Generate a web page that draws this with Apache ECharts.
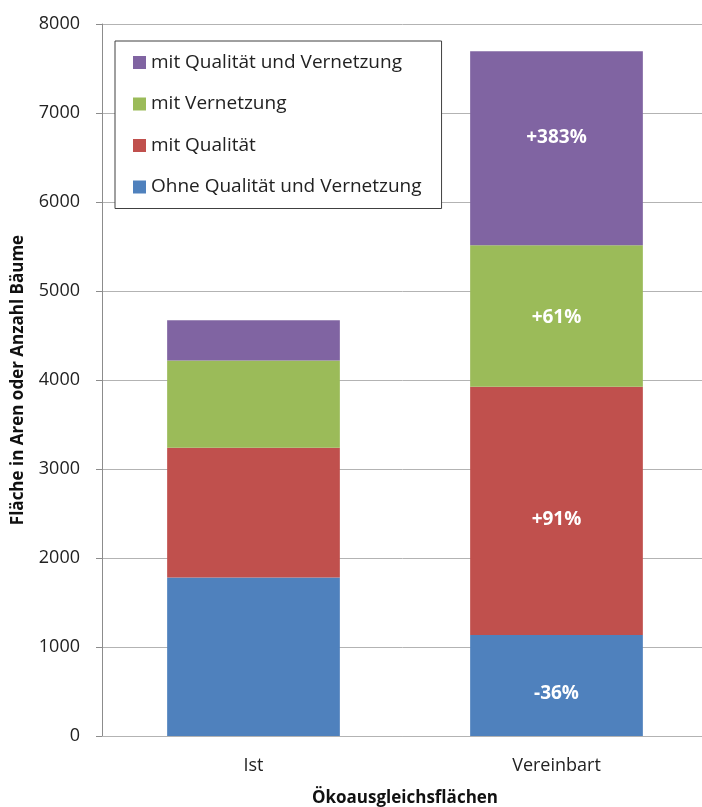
<!DOCTYPE html>
<html>
<head>
<meta charset="utf-8">
<script src="https://cdn.jsdelivr.net/npm/echarts@6/dist/echarts.min.js"></script>
<style>
  html, body { margin: 0; padding: 0; background: #fff; }
  #chart { width: 702px; height: 807px; }
</style>
</head>
<body>
<div id="chart"></div>
<script>
// Kategorien und Werte (Aren bzw. Anzahl Bäume)
const categories = ['Ist', 'Vereinbart'];
const ohneQualitaet = [1780, 1135];
const mitQualitaet = [1460, 2790];
const mitVernetzung = [980, 1590];
const mitQualitaetVernetzung = [450, 2180];

// Veränderung gegenüber Ist, beschriftet auf der Säule "Vereinbart"
const labelsOhne = ['', '-36%'];
const labelsQualitaet = ['', '+91%'];
const labelsVernetzung = ['', '+61%'];
const labelsBeide = ['', '+383%'];

const yTicks = { min: 0, max: 8000, interval: 1000 };

const seriesNames = [
  'Ohne Qualität und Vernetzung',
  'mit Qualität',
  'mit Vernetzung',
  'mit Qualität und Vernetzung'
];
const colors = ['#4F81BD', '#C0504D', '#9BBB59', '#8064A2'];
const fontFamily = '"Open Sans", "Noto Sans", "DejaVu Sans", sans-serif';

function makeSeries(name, values, labels, color, offsetY) {
  return {
    name: name,
    type: 'bar',
    stack: 'total',
    barWidth: '57%',
    data: values,
    itemStyle: { color: color },
    label: {
      show: true,
      position: 'inside',
      offset: [0, offsetY],
      color: '#fff',
      fontWeight: 'bold',
      fontSize: 19,
      fontFamily: fontFamily,
      formatter: p => labels[p.dataIndex]
    }
  };
}

const chart = echarts.init(document.getElementById('chart'), null, { renderer: 'canvas' });
chart.setOption({
  animation: false,
  backgroundColor: '#fff',
  grid: { left: 102, right: -6, top: 24, bottom: 71, containLabel: false, outerBoundsMode: 'none' },
  legend: {
    data: [seriesNames[3], seriesNames[2], seriesNames[1], seriesNames[0]],
    orient: 'vertical',
    left: 115,
    top: 41,
    padding: [9, 20, 9, 18],
    itemGap: 16.5,
    itemWidth: 13,
    itemHeight: 13,
    icon: 'rect',
    backgroundColor: '#fff',
    borderColor: '#404040',
    borderWidth: 1,
    textStyle: { fontSize: 19, lineHeight: 25, color: '#222', fontFamily: fontFamily, padding: [0, 0, 0, 0] }
  },
  xAxis: {
    type: 'category',
    data: categories,
    name: 'Ökoausgleichsflächen',
    nameLocation: 'middle',
    nameGap: 54,
    nameTextStyle: { fontSize: 17, fontWeight: 'bold', color: '#111', fontFamily: fontFamily },
    axisLine: { lineStyle: { color: '#b3b3b3', width: 1 } },
    axisTick: { show: false },
    axisLabel: { fontSize: 18, color: '#222', margin: 21, fontFamily: fontFamily }
  },
  yAxis: {
    type: 'value',
    min: yTicks.min,
    max: yTicks.max,
    interval: yTicks.interval,
    name: 'Fläche in Aren oder Anzahl Bäume',
    nameLocation: 'middle',
    nameGap: 75,
    nameTextStyle: { fontSize: 17, fontWeight: 'bold', color: '#111', fontFamily: fontFamily },
    axisLine: { show: true, lineStyle: { color: '#8c8c8c', width: 1 } },
    axisTick: { show: true, length: 6, lineStyle: { color: '#8c8c8c' } },
    axisLabel: { fontSize: 18, color: '#222', margin: 22, fontFamily: fontFamily, formatter: v => String(v) },
    splitLine: { lineStyle: { color: '#b3b3b3', width: 1 } }
  },
  series: [
    makeSeries(seriesNames[0], ohneQualitaet, labelsOhne, colors[0], 8),
    makeSeries(seriesNames[1], mitQualitaet, labelsQualitaet, colors[1], 9),
    makeSeries(seriesNames[2], mitVernetzung, labelsVernetzung, colors[2], 2),
    makeSeries(seriesNames[3], mitQualitaetVernetzung, labelsBeide, colors[3], -11)
  ]
});
</script>
</body>
</html>
